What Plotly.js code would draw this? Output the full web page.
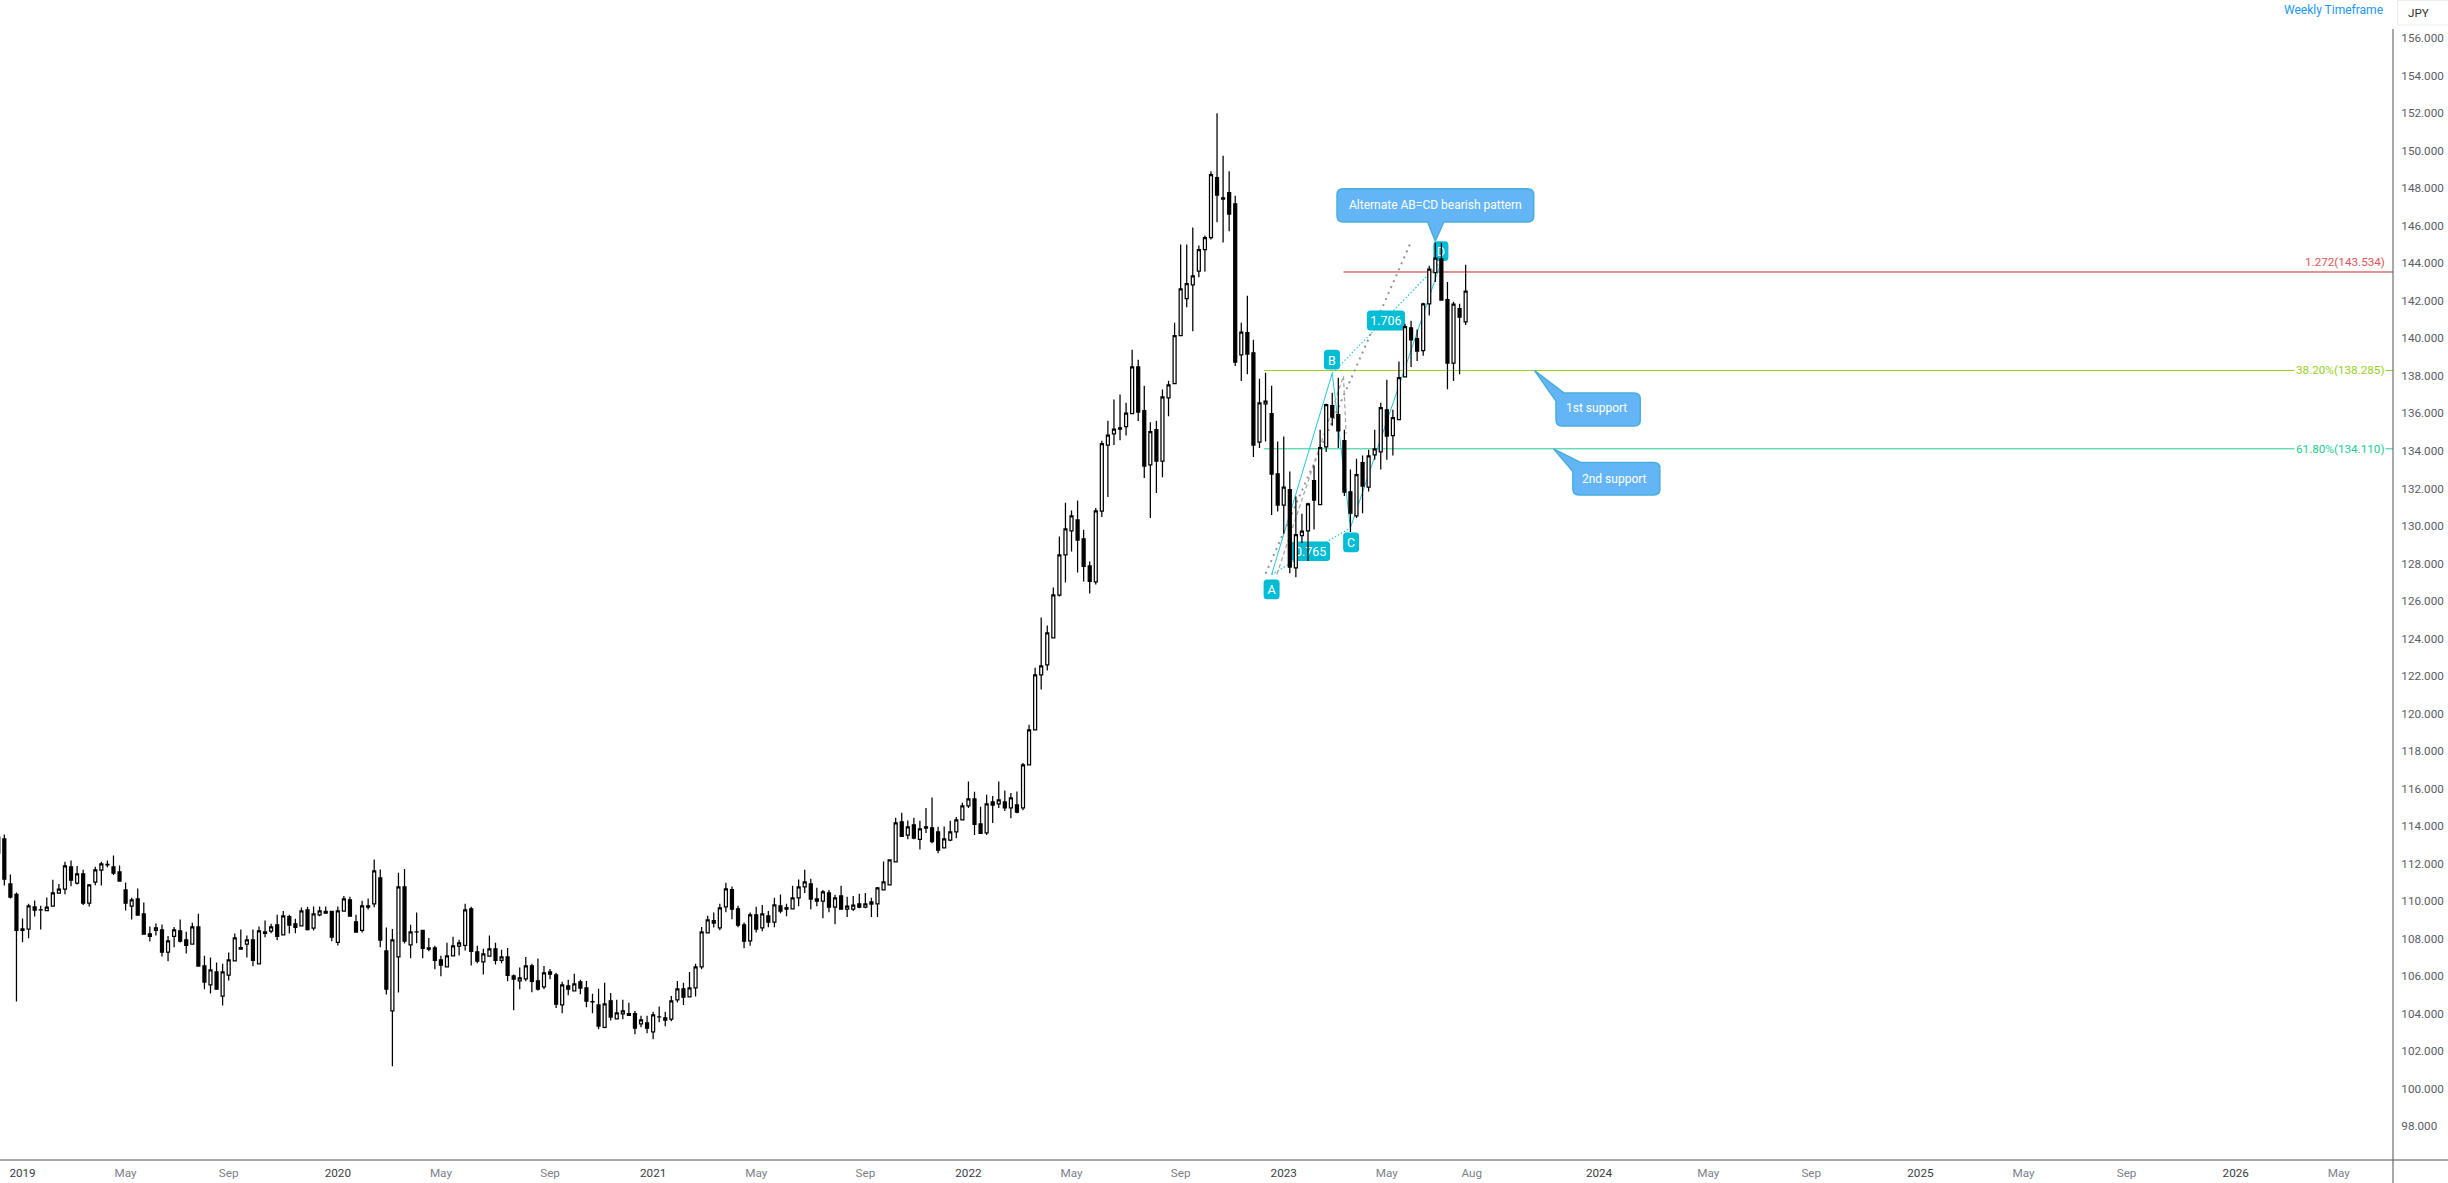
<!DOCTYPE html>
<html>
<head>
<meta charset="utf-8">
<script src="https://cdn.plot.ly/plotly-3.0.1.min.js"></script>
<style>html,body{margin:0;padding:0;background:#fff}#chart{width:2448px;height:1183px}</style>
</head>
<body>
<div id="chart"></div>
<script>
//weekly bars
var firstWeek = '2018-12-10';
var opens = [112.56,
113.32,110.92,110.36,108.53,108.51,109.70,109.54,109.49,109.73,
110.43,110.64,111.83,110.96,111.46,109.89,111.01,111.65,111.94,111.83,
111.56,110.60,109.73,110.12,109.32,108.26,108.45,108.47,107.28,108.13,
108.42,107.94,107.71,108.63,106.55,105.54,106.23,104.94,106.06,106.82,
107.53,107.71,107.94,106.66,108.36,108.40,108.74,108.20,109.18,108.79,
108.68,109.54,108.56,109.27,109.45,109.45,107.81,109.47,110.07,108.90,
108.45,109.75,109.86,111.24,107.35,104.15,107.03,110.76,107.67,108.36,
108.44,107.51,107.51,106.87,106.50,107.09,107.60,107.65,109.59,107.30,
106.77,107.07,107.46,106.85,107.03,106.02,105.75,105.86,106.55,105.75,
105.43,106.23,106.07,104.47,105.49,105.22,105.70,105.38,104.63,104.47,
103.28,104.69,103.73,103.99,104.01,104.01,103.46,103.51,103.03,103.83,
103.78,103.71,104.74,105.33,104.90,105.38,106.50,108.31,108.97,108.58,
109.70,110.62,109.59,108.74,107.88,109.27,108.58,109.22,108.88,109.75,
109.66,109.59,110.18,110.76,110.92,110.12,110.00,110.44,109.68,110.28,
109.57,109.57,109.86,109.68,109.84,109.86,110.60,110.87,112.09,114.23,
113.52,114.07,113.30,113.96,113.91,113.69,112.84,113.25,113.69,114.33,
115.08,115.45,114.12,113.64,115.29,115.19,115.29,114.97,115.13,114.97,
117.27,119.13,122.06,122.59,124.03,126.31,128.46,129.74,130.32,129.31,
127.87,127.02,130.79,134.31,134.91,135.23,135.29,135.98,138.48,136.14,
133.26,135.13,133.46,136.83,137.58,140.14,142.11,142.85,143.58,144.72,
145.36,148.56,147.49,147.76,147.17,139.12,140.30,139.23,134.47,136.51,
135.98,132.78,131.11,131.93,127.77,129.48,129.74,132.41,131.13,134.22,
136.41,135.93,134.54,131.82,130.54,133.37,132.07,133.79,133.95,136.19,
134.81,135.66,137.95,140.56,139.98,139.34,141.84,143.50,144.24,142.06,
138.68,141.58,140.88];
var highs = [113.41,
113.55,111.42,110.46,109.08,109.86,110.04,109.75,110.20,111.14,
110.92,112.10,112.17,111.88,111.67,110.92,111.83,112.10,112.17,112.43,
111.90,111.00,110.18,110.68,109.93,108.65,108.81,108.76,108.15,108.63,
109.02,108.37,108.85,109.33,107.09,107.00,106.73,106.66,107.27,108.28,
108.49,108.17,108.49,108.65,108.97,108.79,109.27,109.48,109.27,109.06,
109.66,109.70,109.71,109.71,109.71,109.48,109.71,110.28,110.23,109.27,
110.02,110.14,112.22,111.69,108.60,108.52,111.51,111.72,108.74,109.40,
108.44,108.04,107.62,107.09,107.78,108.10,107.94,109.86,109.70,107.62,
107.46,108.17,107.78,107.41,107.51,106.09,106.46,107.03,106.66,106.94,
106.55,106.39,106.18,105.70,105.81,106.13,105.81,105.75,105.06,105.33,
105.65,105.11,104.74,104.74,104.58,104.15,103.89,103.89,104.10,104.38,
104.10,104.95,105.75,105.65,106.23,106.66,108.63,109.22,109.40,109.86,
110.98,110.78,109.75,108.86,109.39,109.70,109.80,109.48,110.18,110.35,
109.86,110.82,111.15,111.67,111.19,110.71,110.60,110.60,110.34,110.82,
110.23,110.28,110.39,110.44,110.18,110.76,112.11,112.24,114.44,114.71,
114.30,114.44,114.28,114.97,115.52,113.96,113.98,114.28,114.49,115.24,
116.38,115.83,115.03,115.67,115.61,116.38,115.90,115.77,115.84,117.37,
119.40,122.44,125.12,124.69,126.72,129.44,131.23,130.82,131.35,129.79,
128.10,130.96,134.54,135.60,136.74,137.01,136.56,139.39,138.86,137.47,
135.52,135.60,137.27,137.74,140.83,145.00,145.00,145.91,144.95,145.48,
148.90,151.99,149.73,148.90,147.60,140.83,142.27,139.92,137.84,138.16,
137.47,134.50,134.77,132.90,131.57,130.65,131.23,133.22,135.13,136.51,
137.10,137.90,135.13,133.01,133.58,133.76,134.06,135.13,136.57,137.79,
136.19,138.77,140.78,140.94,140.47,141.90,143.87,145.11,145.09,143.00,
141.95,141.84,143.92];
var lows = [112.56,
110.84,110.14,104.65,107.81,108.03,109.18,108.49,109.49,109.73,
110.43,110.37,110.80,110.89,109.79,109.72,110.85,110.84,111.81,111.39,
111.07,109.50,109.02,109.25,108.24,107.85,108.17,107.05,106.80,107.55,
107.80,107.21,107.71,106.54,105.31,105.08,105.31,104.44,105.77,106.82,
107.44,107.00,106.53,106.66,108.08,108.29,107.92,108.20,108.28,108.29,
108.68,108.44,108.44,109.20,109.36,107.87,107.64,109.47,109.20,108.35,
108.33,109.55,109.68,107.55,105.02,101.20,105.13,107.74,106.96,107.76,
106.96,107.33,106.37,106.00,106.50,107.09,107.10,107.37,106.57,106.69,
106.09,107.07,106.62,106.69,105.73,104.19,105.31,105.73,105.15,105.24,
105.31,105.84,104.30,104.03,104.99,105.22,105.04,104.35,104.03,103.18,
103.23,103.64,103.73,103.71,103.89,102.91,103.28,102.96,102.64,103.55,
103.34,103.60,104.60,104.46,104.90,104.92,106.37,108.31,108.60,108.45,
109.41,109.04,108.61,107.49,107.63,108.33,108.40,108.61,108.61,109.36,
109.20,109.59,109.73,110.43,109.57,109.73,109.09,109.41,108.77,109.57,
109.15,109.47,109.62,109.62,109.15,109.15,110.60,110.87,112.09,113.46,
113.30,113.30,112.75,113.64,113.09,112.56,112.84,113.20,113.36,114.33,
114.97,113.53,113.62,113.53,114.16,114.97,114.80,114.42,114.69,114.85,
117.27,119.13,121.28,122.29,124.03,126.24,126.98,128.64,127.52,127.04,
126.40,126.88,130.47,131.54,134.31,134.57,134.82,135.98,135.59,132.55,
130.42,131.75,132.60,135.84,137.58,140.14,141.65,140.38,143.26,143.56,
145.27,146.19,145.11,145.71,138.52,137.72,138.09,133.67,134.15,134.50,
130.58,130.77,129.58,127.48,127.27,129.09,128.13,129.81,131.13,133.94,
135.34,134.15,131.59,129.67,130.42,130.68,131.84,133.53,133.01,133.53,
133.76,135.66,137.95,138.47,138.79,139.07,141.22,143.00,142.04,137.28,
137.72,138.09,140.71];
var closes = [113.41,
111.17,110.21,108.45,108.45,109.75,109.52,109.53,109.68,110.44,
110.64,111.88,111.12,111.46,109.89,110.87,111.67,111.99,111.96,111.49,
111.07,109.89,110.07,109.25,108.24,108.12,108.58,107.28,107.89,108.47,
107.87,107.65,108.63,106.54,105.68,106.34,105.31,106.23,106.87,108.05,
107.44,107.94,106.85,108.42,108.29,108.63,108.13,109.22,108.72,108.61,
109.48,108.49,109.32,109.48,109.36,108.08,109.48,110.12,109.20,108.35,
109.75,109.68,111.62,107.92,105.31,107.94,110.76,107.87,108.36,108.37,
107.49,107.44,106.85,106.59,107.09,107.62,107.78,109.54,107.33,106.80,
107.19,107.46,106.85,107.03,106.05,105.84,105.91,106.55,105.73,105.31,
106.18,106.11,104.51,105.54,105.31,105.59,105.36,104.67,104.64,103.34,
104.53,103.82,104.05,104.15,103.92,103.23,103.67,103.23,103.94,103.84,
103.66,104.69,105.33,104.88,105.38,106.50,108.36,109.00,108.83,109.64,
110.66,109.57,108.72,107.87,109.27,108.51,109.32,108.88,109.80,109.47,
109.57,110.18,110.76,111.03,110.11,110.00,110.50,109.68,110.18,109.57,
109.73,109.79,109.68,109.86,109.96,110.71,111.03,112.20,114.17,113.46,
113.96,113.36,113.85,113.89,113.18,112.72,113.32,113.69,114.33,115.08,
115.45,114.10,113.62,115.19,115.12,115.40,114.97,115.51,114.74,117.27,
119.13,122.06,122.54,124.30,126.33,128.46,129.84,130.54,129.24,127.85,
127.05,130.80,134.38,134.84,135.16,135.16,136.01,138.48,136.07,133.19,
135.02,133.46,136.88,137.52,140.14,142.64,142.91,143.33,144.72,145.36,
148.72,147.63,147.42,146.62,138.73,140.33,139.16,134.31,136.56,136.65,
132.76,131.11,132.07,127.81,129.53,129.72,131.18,131.38,134.17,136.46,
135.80,135.06,131.80,130.68,132.73,132.12,133.74,134.11,136.30,134.79,
135.77,137.90,140.62,139.92,139.32,141.84,143.69,144.28,142.04,138.68,
141.82,141.13,142.52];

//axis ticks
var priceTicks = [98,100,102,104,106,108,110,112,114,116,118,120,122,124,126,128,130,132,134,136,138,140,142,144,146,148,150,152,154,156];
var timeTickDates = ['2019-01-07','2019-05-06','2019-09-02','2020-01-06','2020-05-04','2020-09-07','2021-01-04','2021-05-03','2021-09-06','2022-01-03','2022-05-02','2022-09-05','2023-01-02','2023-05-01','2023-08-07','2024-01-01','2024-05-06','2024-09-02','2025-01-06','2025-05-05','2025-09-01','2026-01-05','2026-05-04'];
var timeTickLabels = ['2019','May','Sep','2020','May','Sep','2021','May','Sep','2022','May','Sep','2023','May','Aug','2024','May','Sep','2025','May','Sep','2026','May'];

//fib levels
var levelPrices = [143.534, 138.285, 134.110];
var levelStarts = ['2023-03-12', '2022-12-10', '2022-12-10'];
var levelLabels = ['1.272(143.534)', '38.20%(138.285)', '61.80%(134.110)'];

//AB=CD pattern
var patternNames = ['A', 'B', 'C', 'D'];
var patternDates = ['2022-12-19', '2023-02-27', '2023-03-20', '2023-07-03'];
var patternPrices = [127.41, 138.14, 129.90, 144.10];
var ratioLabels = ['0.765', '1.706'];
var ratioDates = ['2023-02-02', '2023-04-30'];
var ratioPrices = [128.65, 140.95];

//the two grey helper lines
var greyDottedDates = ['2022-12-12', '2023-05-28'];
var greyDottedPrices = [127.45, 145.04];
var greyDashedDates = ['2022-12-25', '2023-03-12', '2023-03-15'];
var greyDashedPrices = [127.41, 137.98, 134.91];

var dates = opens.map(function (v, i) {
  return new Date(Date.parse(firstWeek) + i * 7 * 86400000).toISOString().slice(0, 10);
});

var rangeStart = '2018-12-12';
var rangeEnd = '2026-07-05 14:00';
var priceRange = [96.205, 156.485];
var plotW = 2393, plotH = 1131;
var msPerPx = (Date.parse('2026-07-05T14:00:00Z') - Date.parse(rangeStart)) / plotW;
var pricePerPx = (priceRange[1] - priceRange[0]) / plotH;

var trace = {
  type: 'candlestick',
  x: dates, open: opens, high: highs, low: lows, close: closes,
  whiskerwidth: 0,
  increasing: {line: {color: '#000', width: 1.25}, fillcolor: '#fff'},
  decreasing: {line: {color: '#000', width: 1.25}, fillcolor: '#000'},
  hoverinfo: 'skip',
  showlegend: false
};

//path with rounded corners, points are [x, y down, radius] in pixels from the anchor
function roundedPath(pts) {
  var out = '';
  pts.forEach(function (p, i) {
    var prev = pts[(i + pts.length - 1) % pts.length], next = pts[(i + 1) % pts.length];
    var r = p[2] || 0;
    if (!r) { out += (i ? 'L' : 'M') + p[0] + ',' + (-p[1]) + ' '; return; }
    var d1 = Math.hypot(prev[0] - p[0], prev[1] - p[1]), d2 = Math.hypot(next[0] - p[0], next[1] - p[1]);
    var ax = p[0] + (prev[0] - p[0]) * r / d1, ay = p[1] + (prev[1] - p[1]) * r / d1;
    var bx = p[0] + (next[0] - p[0]) * r / d2, by = p[1] + (next[1] - p[1]) * r / d2;
    out += (i ? 'L' : 'M') + ax.toFixed(2) + ',' + (-ay).toFixed(2) + ' Q' + p[0] + ',' + (-p[1]) + ' ' + bx.toFixed(2) + ',' + (-by).toFixed(2) + ' ';
  });
  return out + 'Z';
}

function anchored(date, price, pts, fill, lineColor, layer) {
  return {
    type: 'path', xref: 'x', yref: 'y', layer: layer,
    xsizemode: 'pixel', ysizemode: 'pixel', xanchor: date, yanchor: price,
    path: roundedPath(pts), fillcolor: fill,
    line: {color: lineColor, width: lineColor === fill ? 0 : 1.5}
  };
}

//date a few pixels away, labels on shapes ignore pixel sizing
function shiftDate(date, px) {
  return new Date(Date.parse(date) + px * msPerPx).toISOString().slice(0, 19).replace('T', ' ');
}

//teal tag behind the candles, text sits on an empty rect in the same layer
function tag(date, price, x0, x1, y0, y1, text) {
  var r = 3.5;
  return [
    anchored(date, price, [[x0, y0, r], [x1, y0, r], [x1, y1, r], [x0, y1, r]], '#00bcd4', '#00bcd4', 'below'),
    {
      type: 'rect', xref: 'x', yref: 'y', layer: 'below',
      x0: shiftDate(date, x0), x1: shiftDate(date, x1),
      y0: price - y0 * pricePerPx, y1: price - y1 * pricePerPx,
      fillcolor: 'rgba(0,0,0,0)', line: {width: 0},
      label: {text: text, textposition: 'middle center', font: {family: 'Roboto', size: 12.5, color: '#fff'}}
    }
  ];
}

function polyline(xs, ys, color, width, dash) {
  var out = [];
  for (var i = 0; i < xs.length - 1; i++) {
    out.push({
      type: 'line', xref: 'x', yref: 'y', layer: 'below',
      x0: xs[i], x1: xs[i + 1], y0: ys[i], y1: ys[i + 1],
      line: {color: color, width: width, dash: dash}
    });
  }
  return out;
}

var levelColors = ['#c62828', '#97d01f', '#22cc95'];
var levelTextColors = ['#e0545a', '#97d01f', '#22cc95'];
var shapes = [];

levelPrices.forEach(function (p, i) {
  shapes.push({type: 'line', xref: 'x', yref: 'y', layer: 'below', x0: levelStarts[i], x1: rangeEnd, y0: p, y1: p,
    line: {color: levelColors[i], width: 1}});
});

shapes = shapes.concat(
  polyline(patternDates, patternPrices, '#26c6da', 1, 'solid'),
  polyline([patternDates[0], patternDates[2]], [patternPrices[0], patternPrices[2]], '#26c6da', 1.2, '1.5px,2px'),
  polyline([patternDates[1], patternDates[3]], [patternPrices[1], patternPrices[3]], '#26c6da', 1.2, '1.5px,2px'),
  polyline(greyDottedDates, greyDottedPrices, '#949494', 2, '2px,4.5px'),
  polyline(greyDashedDates, greyDashedPrices, '#a8a8a8', 1.3, '4px,3px'),
  tag(patternDates[0], patternPrices[0], -8, 8, 5, 24.7, patternNames[0]),
  tag(patternDates[1], patternPrices[1], -8.3, 7.7, -23.4, -3.7, patternNames[1]),
  tag(patternDates[2], patternPrices[2], -7.3, 8.7, 4.7, 24.4, patternNames[2]),
  tag(patternDates[3], patternPrices[3], -8, 7, -20, -0.3, patternNames[3]),
  tag(ratioDates[0], ratioPrices[0], -19.5, 19.5, -9.8, 9.8, ratioLabels[0]),
  tag(ratioDates[1], ratioPrices[1], -19, 19, -10, 10, ratioLabels[1])
);

//blue callouts
var calloutFill = '#64b5f6', calloutLine = '#4aaedb', rc = 6;
shapes.push(anchored('2023-06-26', 145.18,
  [[0, 0], [-7.6, -19], [-98.3, -19, rc], [-98.3, -52.4, rc], [98.4, -52.4, rc], [98.4, -19, rc], [8.4, -19]],
  calloutFill, calloutLine, 'above'));
shapes.push(anchored('2023-10-18 14:00', 138.285,
  [[0, 0], [29.3, 22.4], [105.7, 22.4, rc], [105.7, 55.4, rc], [21.4, 55.4, rc], [21.4, 30.7]],
  calloutFill, calloutLine, 'above'));
shapes.push(anchored('2023-11-09 12:00', 134.11,
  [[0, 0], [27.1, 13.7], [106.3, 13.7, rc], [106.3, 46.3, rc], [19.3, 46.3, rc], [19.3, 22.7]],
  calloutFill, calloutLine, 'above'));

//frame, it runs on past the plot into the corner
shapes.push({type: 'line', xref: 'paper', yref: 'paper', x0: 0, x1: 2448 / plotW, y0: 0, y1: 0, line: {color: '#50535e', width: 1}});
shapes.push({type: 'line', xref: 'paper', yref: 'paper', x0: 1, x1: 1, y0: -23 / plotH, y1: 1, line: {color: '#50535e', width: 1}});
//JPY box
shapes.push({type: 'rect', xref: 'paper', yref: 'paper', x0: 2397.5 / plotW, x1: 2452 / plotW, y0: 1 + 4 / plotH, y1: 1 + 28.5 / plotH,
  fillcolor: '#fff', line: {color: '#ececee', width: 1}});

var font = 'Roboto';
var annotations = [];
levelLabels.forEach(function (t, i) {
  var onLine = i > 0;
  annotations.push({
    text: t, xref: 'paper', yref: 'y', x: 2386 / plotW, y: levelPrices[i], xanchor: 'right',
    yanchor: onLine ? 'middle' : 'bottom', yshift: onLine ? 0 : 2, showarrow: false,
    bgcolor: onLine ? '#fff' : 'rgba(0,0,0,0)', borderpad: onLine ? 1 : 0,
    font: {family: font, size: 11.7, color: levelTextColors[i]}
  });
});
[['Alternate AB=CD bearish pattern', '2023-06-26', 145.18, 0, 35.7],
 ['1st support', '2023-10-18 14:00', 138.285, 61.7, -38],
 ['2nd support', '2023-11-09 12:00', 134.11, 60.7, -30]].forEach(function (c) {
  annotations.push({
    text: c[0], xref: 'x', yref: 'y', x: c[1], y: c[2], xshift: c[3], yshift: c[4], showarrow: false,
    font: {family: font, size: 12, color: '#fff'}
  });
});
annotations.push({text: 'Weekly Timeframe', xref: 'paper', yref: 'paper', x: 2385 / plotW, y: 1 + 18.5 / plotH,
  xanchor: 'right', yanchor: 'middle', showarrow: false, font: {family: font, size: 12, color: '#2196f3'}});
annotations.push({text: 'JPY', xref: 'paper', yref: 'paper', x: 2405.5 / plotW, y: 1 + 15.5 / plotH,
  xanchor: 'left', yanchor: 'middle', showarrow: false, font: {family: font, size: 11.7, color: '#333'}});

var layout = {
  width: 2448, height: 1183,
  margin: {l: 0, r: 55, t: 29, b: 23, pad: 0},
  paper_bgcolor: '#fff', plot_bgcolor: '#fff',
  showlegend: false, dragmode: false, hovermode: false,
  xaxis: {
    type: 'date', range: [rangeStart, rangeEnd], rangeslider: {visible: false},
    tickmode: 'array', tickvals: timeTickDates,
    ticktext: timeTickLabels.map(function (t) {
      return /^\d/.test(t) ? '<span style="color:#3a3d45">' + t + '</span>' : t;
    }),
    showgrid: false, zeroline: false, showline: false, ticks: '', ticklabelstandoff: 4,
    tickfont: {family: font, size: 11.7, color: '#7d808a'}, tickangle: 0
  },
  yaxis: {
    side: 'right', range: priceRange,
    tickmode: 'array', tickvals: priceTicks, tickformat: '.3f',
    showgrid: false, zeroline: false, showline: false, ticks: 'outside', ticklen: 5, tickcolor: 'rgba(0,0,0,0)',
    tickfont: {family: font, size: 11.7, color: '#5a5d66'}
  },
  shapes: shapes,
  annotations: annotations
};

Plotly.newPlot('chart', [trace], layout, {displayModeBar: false, staticPlot: true});
</script>
</body>
</html>
